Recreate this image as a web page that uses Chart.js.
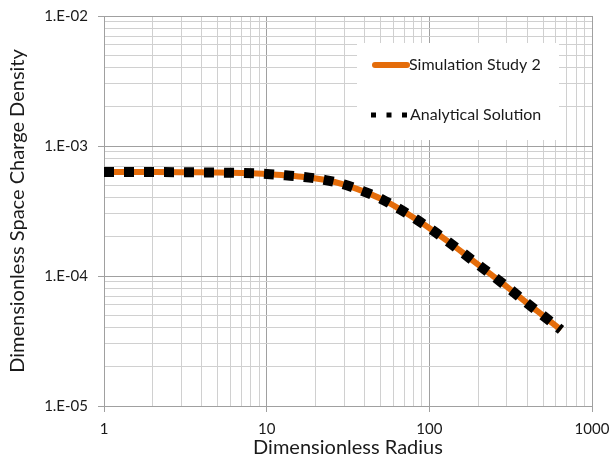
<!DOCTYPE html>
<html>
<head>
<meta charset="utf-8">
<script src="https://cdn.jsdelivr.net/npm/chart.js@4.4.1/dist/chart.umd.min.js"></script>
<style>
  html, body { margin: 0; padding: 0; background: #fff; }
  canvas { display: block; }
</style>
</head>
<body>
<canvas id="myChart" width="611" height="468"></canvas>
<script>
// --- DATA ---
const RADIUS = [1, 1.5, 2, 3, 4, 5, 7, 10, 13, 17, 23, 30, 39, 51, 65, 83, 105, 132, 165, 207, 260, 326, 404, 506, 645];
const SIMULASI = [6.3e-4, 6.3e-4, 6.3e-4, 6.29e-4, 6.27e-4, 6.25e-4, 6.2e-4, 6.1e-4, 5.95e-4, 5.78e-4, 5.47e-4, 5.05e-4, 4.5e-4, 3.9e-4, 3.3e-4, 2.73e-4, 2.24e-4, 1.82e-4, 1.47e-4, 1.18e-4, 9.5e-5, 7.6e-5, 6.1e-5, 4.9e-5, 3.85e-5];
const ANALITIK = [6.3e-4, 6.3e-4, 6.3e-4, 6.29e-4, 6.27e-4, 6.25e-4, 6.2e-4, 6.1e-4, 5.95e-4, 5.78e-4, 5.47e-4, 5.05e-4, 4.5e-4, 3.9e-4, 3.3e-4, 2.73e-4, 2.24e-4, 1.82e-4, 1.47e-4, 1.18e-4, 9.5e-5, 7.6e-5, 6.1e-5, 4.9e-5, 3.85e-5];

const X_MAJOR = [1, 10, 100, 1000];
const X_LABELS = ['1', '10', '100', '1000'];
const Y_MAJOR = [1e-5, 1e-4, 1e-3, 1e-2];
const Y_LABELS = ['1.E-05', '1.E-04', '1.E-03', '1.E-02'];

const FONT = 'Lato, "Open Sans", sans-serif';
const WARNA_ORANYE = '#E46C0A';
const GRID_MINOR = '#d0d0d0';
const GRID_MAYOR = '#a0a0a0';

function isMajor(v) {
    const l = Math.log10(v);
    return Math.abs(l - Math.round(l)) < 1e-6;
}

// ticks 1..9 per decade
function buatTicks(majors) {
    const out = [];
    for (let i = 0; i < majors.length - 1; i++) {
        for (let m = 1; m < 10; m++) out.push({ value: majors[i] * m });
    }
    out.push({ value: majors[majors.length - 1] });
    return out;
}

function labelDari(majors, labels, v) {
    for (let i = 0; i < majors.length; i++) {
        if (Math.abs(Math.log10(v) - Math.log10(majors[i])) < 1e-6) return labels[i];
    }
    return '';
}

// legend box drawn inside the plot
const legendKotak = {
    id: 'legendKotak',
    afterDatasetsDraw(chart, args, opts) {
        const c = chart.ctx;
        c.save();
        c.fillStyle = '#fff';
        c.fillRect(opts.x, opts.y, opts.w, opts.h);

        c.font = '16px ' + FONT;
        c.fillStyle = '#1a1a1a';
        c.textBaseline = 'middle';
        c.textAlign = 'left';

        // orange
        c.strokeStyle = WARNA_ORANYE;
        c.lineWidth = 6;
        c.lineCap = 'round';
        c.beginPath();
        c.moveTo(opts.x + 18, opts.y + 22);
        c.lineTo(opts.x + 50, opts.y + 22);
        c.stroke();
        c.fillText(chart.data.datasets[1].label, opts.x + 52, opts.y + 22);

        // black dots
        c.strokeStyle = '#000';
        c.lineWidth = 5;
        c.lineCap = 'butt';
        c.setLineDash([5, 10.5]);
        c.beginPath();
        c.moveTo(opts.x + 14, opts.y + 72);
        c.lineTo(opts.x + 51, opts.y + 72);
        c.stroke();
        c.setLineDash([]);
        c.fillText(chart.data.datasets[0].label, opts.x + 53, opts.y + 72);
        c.restore();
    }
};

const ctx = document.getElementById('myChart').getContext('2d');
new Chart(ctx, {
    type: 'scatter',
    data: {
        datasets: [
            {
                label: 'Analytical Solution',
                data: RADIUS.map((r, i) => ({ x: r, y: ANALITIK[i] })),
                showLine: true,
                borderColor: '#000',
                borderWidth: 10,
                borderDash: [10, 10],
                borderCapStyle: 'butt',
                pointRadius: 0,
                cubicInterpolationMode: 'monotone',
                order: 1
            },
            {
                label: 'Simulation Study 2',
                data: RADIUS.map((r, i) => ({ x: r, y: SIMULASI[i] })),
                showLine: true,
                borderColor: WARNA_ORANYE,
                borderWidth: 6,
                pointRadius: 0,
                cubicInterpolationMode: 'monotone',
                order: 2
            }
        ]
    },
    options: {
        responsive: false,
        animation: false,
        devicePixelRatio: 1,
        layout: { padding: { top: 16, right: 19, left: 0, bottom: 0 } },
        plugins: {
            legend: { display: false },
            tooltip: { enabled: false },
            legendKotak: { x: 357, y: 43, w: 202, h: 97 }
        },
        scales: {
            x: {
                type: 'logarithmic',
                min: 1, max: 1000,
                afterBuildTicks: s => { s.ticks = buatTicks(X_MAJOR); },
                afterFit: s => { s.height = 62; s.paddingLeft = 0; s.paddingRight = 0; },
                border: { color: GRID_MAYOR, width: 1 },
                grid: {
                    color: c => isMajor(c.tick.value) ? GRID_MAYOR : GRID_MINOR,
                    tickColor: c => isMajor(c.tick.value) ? GRID_MAYOR : 'rgba(0,0,0,0)',
                    tickLength: 6,
                    lineWidth: 1
                },
                ticks: {
                    autoSkip: false, maxRotation: 0, padding: 8,
                    color: '#1a1a1a',
                    font: { family: FONT, size: 15 },
                    callback: v => labelDari(X_MAJOR, X_LABELS, v)
                },
                title: {
                    display: true, text: 'Dimensionless Radius',
                    color: '#1a1a1a',
                    font: { family: FONT, size: 20 },
                    padding: { top: 0, bottom: 8 }
                }
            },
            y: {
                type: 'logarithmic',
                min: 1e-5, max: 1e-2,
                afterBuildTicks: s => { s.ticks = buatTicks(Y_MAJOR); },
                afterFit: s => { s.width = 104; s.paddingTop = 0; s.paddingBottom = 0; },
                border: { color: GRID_MAYOR, width: 1 },
                grid: {
                    color: c => isMajor(c.tick.value) ? GRID_MAYOR : GRID_MINOR,
                    tickColor: c => isMajor(c.tick.value) ? GRID_MAYOR : 'rgba(0,0,0,0)',
                    tickLength: 6,
                    lineWidth: 1
                },
                ticks: {
                    autoSkip: false, padding: 10,
                    color: '#1a1a1a',
                    font: { family: FONT, size: 15 },
                    callback: v => labelDari(Y_MAJOR, Y_LABELS, v)
                },
                title: {
                    display: true, text: 'Dimensionless Space Charge Density',
                    color: '#1a1a1a',
                    font: { family: FONT, size: 20 },
                    padding: { top: 6, bottom: 0 }
                }
            }
        }
    },
    plugins: [legendKotak]
});
</script>
</body>
</html>
